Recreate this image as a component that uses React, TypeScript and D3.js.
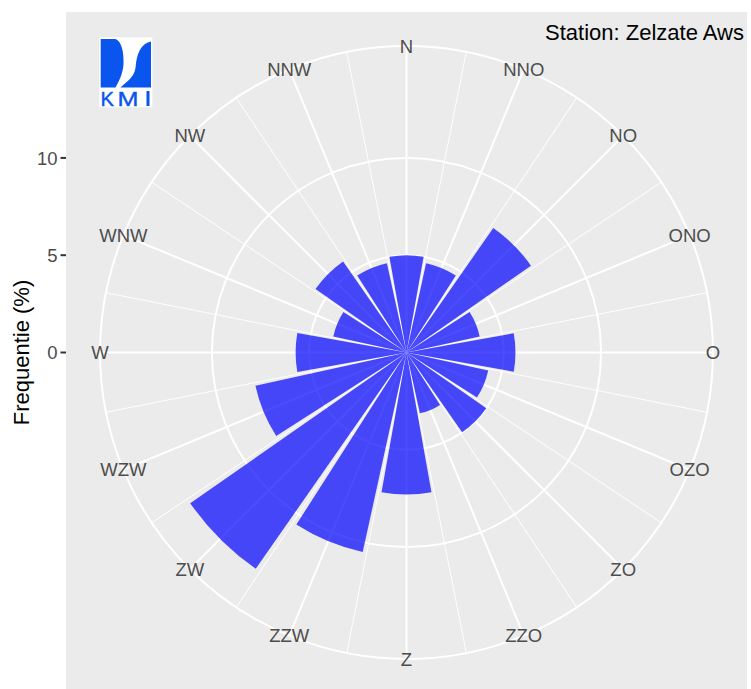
import React from 'react';
import * as d3 from 'd3';

// ---- data ----
const directions = ['N', 'NNO', 'NO', 'ONO', 'O', 'OZO', 'ZO', 'ZZO', 'Z', 'ZZW', 'ZW', 'WZW', 'W', 'WNW', 'NW', 'NNW'];
const frequencies = [5.0, 4.7, 7.8, 3.85, 5.6, 4.3, 5.0, 3.2, 7.3, 10.5, 13.55, 7.95, 5.7, 3.85, 5.7, 4.7];
const rTicks = [0, 5, 10];
const rDomain = [0, 14];
const thetaDomain = [0, 360];
const stationLabel = 'Station: Zelzate Aws';
const axisTitle = 'Frequentie (%)';

// ---- layout ----
const W = 751;
const H = 689;
const panelX = 66;
const panelY = 12;
const panelSize = 681;
const cx = panelX + panelSize / 2;
const cy = panelY + panelSize / 2;
const outerR = 0.45 * panelSize;
const FONT = "'Liberation Sans', Arial, Helvetica, sans-serif";
const LOGO_BLUE = '#0A55EE';

export default function App() {
  const rScale = d3.scaleLinear().domain(rDomain).range([0, 0.4 * panelSize]);
  const theta = d3.scaleLinear().domain(thetaDomain).range([0, 2 * Math.PI]);
  const step = 360 / directions.length;
  const majorAngles = directions.map((_, i) => i * step);
  const minorAngles = directions.map((_, i) => i * step + step / 2);
  const pt = (deg: number, r: number) => {
    const a = theta(deg);
    return [cx + r * Math.sin(a), cy - r * Math.cos(a)];
  };
  const arc = d3.arc<any>();

  return (
    <svg width={W} height={H} style={{ position: 'absolute', left: 0, top: 0, background: '#fff' }} fontFamily={FONT}>
      <rect x={panelX} y={panelY} width={panelSize} height={panelSize} fill="#EBEBEB" />
      {/* minor theta grid */}
      {minorAngles.map((d, i) => {
        const [x, y] = pt(d, outerR);
        return <line key={'mi' + i} x1={cx} y1={cy} x2={x} y2={y} stroke="#fff" strokeWidth={1} />;
      })}
      {/* major theta grid */}
      {majorAngles.map((d, i) => {
        const [x, y] = pt(d, outerR);
        return <line key={'ma' + i} x1={cx} y1={cy} x2={x} y2={y} stroke="#fff" strokeWidth={2} />;
      })}
      {/* r grid circles */}
      {rTicks.filter(t => t > 0).map(t => (
        <circle key={'c' + t} cx={cx} cy={cy} r={rScale(t)} fill="none" stroke="#fff" strokeWidth={2} />
      ))}
      <circle cx={cx} cy={cy} r={outerR} fill="none" stroke="#fff" strokeWidth={2} />
      {/* bars */}
      <g transform={`translate(${cx},${cy})`}>
        {frequencies.map((v, i) => (
          <path
            key={'b' + i}
            d={arc({
              innerRadius: 0,
              outerRadius: rScale(v),
              startAngle: theta(i * step - 0.45 * step),
              endAngle: theta(i * step + 0.45 * step),
            }) as string}
            fill="#0000FF"
            fillOpacity={0.7}
          />
        ))}
      </g>
      {/* theta labels */}
      {directions.map((lab, i) => {
        const [x, y] = pt(i * step, outerR);
        return (
          <text key={'t' + i} x={x} y={y} dy="0.36em" textAnchor="middle" fontSize={18.5} fill="#4D4D4D">
            {lab}
          </text>
        );
      })}
      {/* r axis */}
      {rTicks.map(t => (
        <g key={'rt' + t}>
          <line x1={panelX - 5.5} x2={panelX} y1={cy - rScale(t)} y2={cy - rScale(t)} stroke="#333333" strokeWidth={2} />
          <text x={panelX - 8.5} y={cy - rScale(t)} dy="0.36em" textAnchor="end" fontSize={18.5} fill="#4D4D4D">
            {t}
          </text>
        </g>
      ))}
      <text transform={`translate(28.5,${cy}) rotate(-90)`} textAnchor="middle" fontSize={22} fill="#000">
        {axisTitle}
      </text>
      {/* station label */}
      <text x={545} y={40} fontSize={22} fill="#000">{stationLabel}</text>
      {/* KMI logo */}
      <g>
        <rect x={99.3} y={37.3} width={53} height={70} fill="#fff" />
        <path d="M100.7,39 L115.5,39 C121.5,41 124,52 123.5,64 C123,74 118.5,82 115.5,87.5 L100.7,87.5 Z" fill={LOGO_BLUE} />
        <path d="M151,41.5 L151,87.5 L120.5,87.5 C126,82 134,78 135.5,68 C136.5,55 140,44 151,41.5 Z" fill={LOGO_BLUE} />
        <text x={100.5} y={106} fontSize={21} fill={LOGO_BLUE} stroke={LOGO_BLUE} strokeWidth={0.4} textLength={13.5} lengthAdjust="spacingAndGlyphs">K</text>
        <text x={117.5} y={106} fontSize={21} fill={LOGO_BLUE} stroke={LOGO_BLUE} strokeWidth={0.4} textLength={21} lengthAdjust="spacingAndGlyphs">M</text>
        <rect x={146.5} y={91} width={3} height={15} fill={LOGO_BLUE} />
      </g>
    </svg>
  );
}
